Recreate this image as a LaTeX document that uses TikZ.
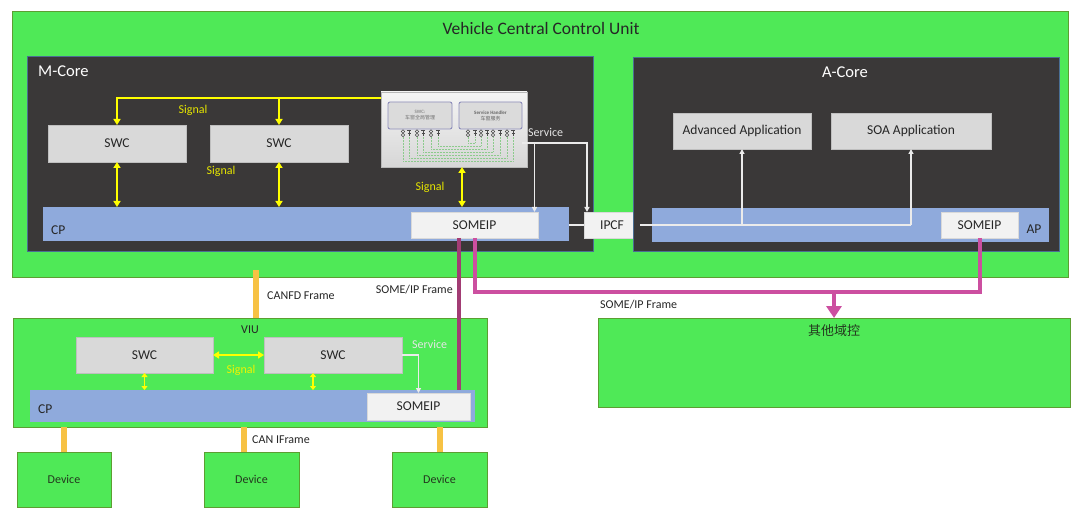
\documentclass[tikz,border=0pt]{standalone}
\usepackage{fontspec}
\setmainfont{Carlito}
\newfontfamily\cjk{Noto Sans CJK SC}
\usetikzlibrary{arrows.meta,calc}
\definecolor{gfill}{HTML}{4FE957}
\definecolor{gline}{HTML}{5C9E31}
\definecolor{dark}{HTML}{3A3838}
\definecolor{darkline}{HTML}{4A6E94}
\definecolor{cpblue}{HTML}{8FAADC}
\definecolor{lightbox}{HTML}{F2F2F2}
\definecolor{swcgray}{HTML}{D9D9D9}
\definecolor{yel}{HTML}{FFFF00}
\definecolor{yeltext}{HTML}{E6E600}
\definecolor{gold}{HTML}{F7C244}
\definecolor{pinkb}{HTML}{CC4FA0}
\definecolor{pinkd}{HTML}{A23C74}
\definecolor{txt}{HTML}{262626}
\definecolor{devtxt}{HTML}{24381F}
\tikzset{
  f17/.style={font=\fontsize{17.5}{20}\selectfont},
  f16/.style={font=\fontsize{16.5}{19}\selectfont},
  f14/.style={font=\fontsize{13.5}{16}\selectfont},
  f12/.style={font=\fontsize{12}{14}\selectfont},
  rbox/.style={rectangle, inner sep=0pt, outer sep=0pt},
  gbox/.style={rbox, fill=gfill, draw=gline, line width=1pt},
  corebox/.style={rbox, fill=dark, draw=darkline, line width=0.8pt},
  cpbar/.style={rbox, fill=cpblue},
  lbox/.style={rbox, fill=lightbox, draw=white!85!black, line width=0.5pt, f14, text=txt},
  swcbox/.style={rbox, fill=swcgray, draw=white!75!black, line width=0.5pt, f14, text=txt},
  lbl/.style={inner sep=0pt, f12, text=txt},
  wlbl/.style={inner sep=0pt, f12, text=white!90!black},
  ylbl/.style={inner sep=0pt, f12, text=yeltext},
  yarrow/.style={draw=yel, line width=2pt, {Triangle[length=6pt,width=7pt]}-{Triangle[length=6pt,width=7pt]}},
  yone/.style={draw=yel, line width=2pt, -{Triangle[length=6pt,width=7pt]}},
  wline/.style={draw=white!92!black, line width=1.5pt},
  warrow/.style={draw=white!92!black, line width=1.5pt, -{Triangle[length=5pt,width=5pt]}},
  goldbar/.style={draw=gold, line width=6pt},
  pinkline/.style={draw=pinkb, line width=4pt},
  pinkdark/.style={draw=pinkd, line width=4pt},
  dotg/.style={draw=green!55!black!45, line width=0.5pt, densely dotted},
  portc/.style={draw=black!70, line width=0.6pt},
}
\begin{document}
\begin{tikzpicture}[x=1pt,y=-1pt]
\useasboundingbox[fill=white] (0,0) rectangle (1080,516);

% ===== Vehicle Central Control Unit =====
\node[gbox, minimum width=1056, minimum height=265] (vccu) at (540,144.5) {};
\node[inner sep=0pt, f17, text=txt] (title) at (541,28) {Vehicle Central Control Unit};

% M-Core
\node[corebox, minimum width=566, minimum height=195] (mcore) at (310,153.5) {};
\node[inner sep=0pt, f16, text=white, anchor=west] (mcorel) at (38,71) {M-Core};
\node[cpbar, minimum width=526, minimum height=34] (cpm) at (306,224) {};
\node[lbl, f14, anchor=west] (cpml) at (51,230) {CP};
\node[lbox, minimum width=127, minimum height=26] (somm) at (474.5,225) {SOMEIP};
\node[swcbox, minimum width=138, minimum height=37] (swc1) at (117,143.5) {SWC};
\node[swcbox, minimum width=138, minimum height=37] (swc2) at (279,143.5) {SWC};

% embedded picture
\node[rbox, top color=white!96!black, bottom color=white!84!black, draw=white!72!black, line width=0.6pt,
      minimum width=146, minimum height=75] (pic) at (454,129.5) {};
\node[rbox, fill=white!86!black, draw=blue!40!black!45, line width=0.9pt, rounded corners=2pt,
      minimum width=64, minimum height=27, font=\fontsize{5}{6}\selectfont, text=black!55, align=center]
      (inA) at (420,115.5) {SWC:\\{\cjk 车窗全局管理}};
\node[rbox, fill=white!86!black, draw=blue!40!black!45, line width=0.9pt, rounded corners=2pt,
      minimum width=63, minimum height=27, font=\fontsize{5}{6}\selectfont, text=black!60, align=center]
      (inB) at (490.5,115.5) {\textbf{Service Handler}\\{\cjk 车窗服务}};
\foreach \a/\b/\yy in {403/513/161, 409/507/158, 417/500/155, 423/493/152, 431/487/149, 438/481/146, 468/475/143}
  {\draw[dotg] (\a,137) -- (\a,\yy) -- (\b,\yy) -- (\b,137);}
\foreach \px [count=\i] in {403,409,417,423,431,438,468,475,481,487,493,500,507,513}
  {\ifodd\i
     \draw[portc] (\px,131.5) circle (1.7); \draw[portc] (\px,135) circle (1.7);
   \else
     \draw[portc] (\px-2.2,130) -- (\px+2.2,130); \draw[portc] (\px,130) -- (\px,136.5);
     \draw[portc] (\px-1.5,133) -- (\px+1.5,133);
   \fi}

% IPCF
\node[lbox, minimum width=56, minimum height=26] (ipcf) at (612,225) {IPCF};

% A-Core
\node[corebox, minimum width=426, minimum height=194] (acore) at (846,154) {};
\node[inner sep=0pt, f16, text=white] (acorel) at (845,72) {A-Core};
\node[cpbar, minimum width=397, minimum height=34] (apbar) at (850.5,225) {};
\node[lbl, f14] (apl) at (1034,229) {AP};
\node[lbox, minimum width=77, minimum height=26] (soma) at (979.5,225) {SOMEIP};
\node[swcbox, minimum width=138, minimum height=36] (adv) at (742,131) {Advanced Application};
\node[swcbox, minimum width=160, minimum height=36] (soa) at (911,131) {SOA Application};

% Signals in M-Core
\coordinate (ytop) at (381,98);
\draw[yone] (ytop) -| (swc1.north);
\draw[yone] (swc2.north |- ytop) -- (swc2.north);
\node[ylbl] (sig1) at (193,110) {Signal};
\draw[yarrow] (swc1.south) -- (swc1.south |- cpm.north);
\draw[yarrow] (swc2.south) -- (swc2.south |- cpm.north);
\node[ylbl] (sig2) at (221,171) {Signal};
\draw[yarrow] ([xshift=8pt]pic.south) -- ([xshift=8pt]pic.south |- cpm.north);
\node[ylbl] (sig3) at (430,187) {Signal};

% Service lines
\coordinate (svc) at (522,143);
\node[wlbl, anchor=west] (svcl) at (528,132) {Service};
\draw[warrow] (svc) -| ([xshift=-3.5pt]somm.north east);
\draw[warrow] (svc) -| ([xshift=3pt]ipcf.north west);
\draw[wline] (ipcf.west -| cpm.east) -- (ipcf.west);
\draw[wline] (ipcf.east) -- (soa.south |- ipcf.east);
\draw[warrow] (soa.south |- ipcf.east) -- (soa.south);
\draw[warrow] (adv.south |- ipcf.east) -- (adv.south);

% ===== Other domain =====
\node[gbox, minimum width=472, minimum height=89] (oth) at (834,362.5) {};
\node[inner sep=0pt, font=\cjk\fontsize{13}{15}\selectfont, text=devtxt] (othl) at (834,331) {其他域控};

% ===== VIU =====
\node[gbox, minimum width=474, minimum height=109] (viu) at (250,372.5) {};
\node[lbl] (viul) at (250,330) {VIU};
\node[cpbar, minimum width=445, minimum height=32] (viucp) at (252.5,406) {};
\node[lbl, f14, anchor=west] (viucpl) at (38,409) {CP};
\node[lbox, minimum width=103, minimum height=27] (viusom) at (418.5,406.5) {SOMEIP};
\node[swcbox, minimum width=137, minimum height=36] (vswc1) at (144.5,355) {SWC};
\node[swcbox, minimum width=138, minimum height=36] (vswc2) at (333,355) {SWC};
\draw[yarrow] (vswc1.east) -- (vswc2.west);
\node[ylbl, text=yel!95!black] (sig4) at (241,370) {Signal};
\draw[yarrow, line width=1.8pt, {Triangle[length=4pt,width=6pt]}-{Triangle[length=4pt,width=6pt]}] (vswc1.south) -- (vswc1.south |- viucp.north);
\draw[yarrow, line width=1.8pt, {Triangle[length=4pt,width=6pt]}-{Triangle[length=4pt,width=6pt]}] ([xshift=-20pt]vswc2.south) -- ([xshift=-20pt]vswc2.south |- viucp.north);
\draw[warrow] (vswc2.east) -| (viusom.north);
\node[wlbl, anchor=west] (vsvcl) at (412,344) {Service};

% CANFD
\draw[goldbar] ([xshift=6pt,yshift=7pt]vccu.south -| viu.north) -- ([xshift=6pt]viu.north);
\node[lbl, anchor=west] (canfd) at (267,296) {CANFD Frame};

% Devices
\node[gbox, minimum width=94, minimum height=55, f12, text=devtxt] (dev1) at (64,479.5) {Device};
\node[gbox, minimum width=95, minimum height=55, f12, text=devtxt] (dev2) at (251.5,479.5) {Device};
\node[gbox, minimum width=95, minimum height=55, f12, text=devtxt] (dev3) at (439.5,479.5) {Device};
\draw[goldbar] (dev1.north) -- (dev1.north |- viu.south);
\draw[goldbar] ([xshift=-7.5pt]dev2.north) -- ([xshift=-7.5pt]dev2.north |- viu.south);
\draw[goldbar] (dev3.north) -- (dev3.north |- viu.south);
\node[lbl, anchor=west] (canl) at (252,440) {CAN IFrame};

% SOME/IP pink lines
\draw[pinkdark] ([xshift=-15.5pt]somm.south) -- ([xshift=-15.5pt]somm.south |- viucp.north);
\node[lbl, anchor=east] (some1) at (453,290) {SOME/IP Frame};
\coordinate (jn) at (834,292);
\draw[pinkline] (somm.south) |- (jn);
\draw[pinkline] (soma.south) |- (jn);
\draw[pinkline, -{Triangle[width=15pt,length=12pt]}] ([yshift=2pt]jn) -- (oth.north);
\node[lbl, anchor=west] (some2) at (600,305) {SOME/IP Frame};
\end{tikzpicture}
\end{document}
